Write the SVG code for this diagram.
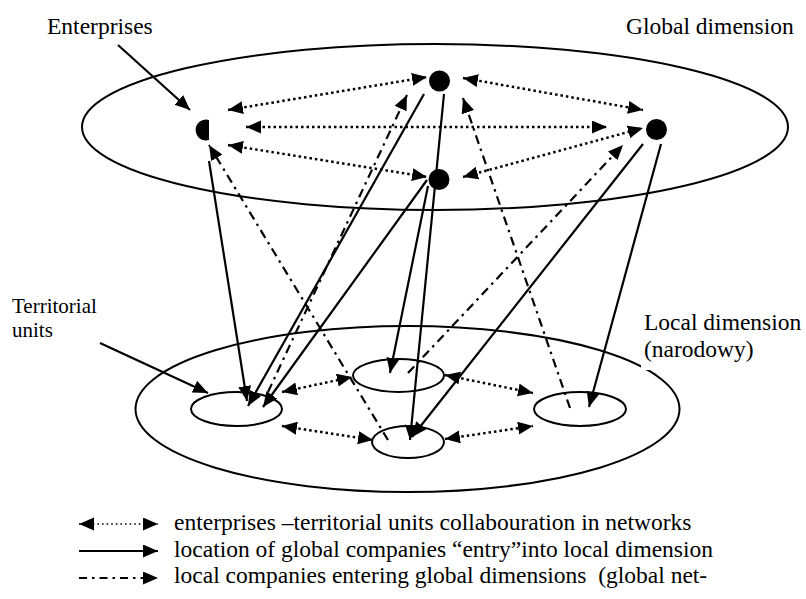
<svg xmlns="http://www.w3.org/2000/svg" width="806" height="599" viewBox="0 0 806 599">
<style>
text{font-family:"Liberation Serif","Times New Roman",serif;font-size:23.5px;fill:#000}
.small{font-size:21px}
.ell{fill:none;stroke:#000;stroke-width:2}
.node{fill:#000}
.solid{fill:none;stroke:#000;stroke-width:2.2}
.dot{fill:none;stroke:#000;stroke-width:2.5;stroke-dasharray:2.5 3}
.dd{fill:none;stroke:#000;stroke-width:2.2;stroke-dasharray:9 5 2.5 5}
.ldot{fill:none;stroke:#000;stroke-width:1.6;stroke-dasharray:1.6 3}
.ldd{fill:none;stroke:#000;stroke-width:2.2;stroke-dasharray:8 5 2.5 5}
</style>
<defs>
<marker id="ah" markerUnits="userSpaceOnUse" markerWidth="16" markerHeight="14" refX="15" refY="6.5" orient="auto-start-reverse">
<path d="M0,0 L15,6.5 L0,13 z" fill="#000"/>
</marker>
</defs>
<g id="global-dimension">
<ellipse class="ell" cx="435" cy="127" rx="353" ry="83"/>
</g>
<g id="local-dimension">
<ellipse class="ell" cx="407.5" cy="409" rx="272" ry="83"/>
</g>
<g id="unit-1"><ellipse class="ell" cx="236.5" cy="409" rx="45.5" ry="17"/></g>
<g id="unit-2"><ellipse class="ell" cx="398.5" cy="375.5" rx="45.5" ry="16.5"/></g>
<g id="unit-3"><ellipse class="ell" cx="408" cy="442" rx="36" ry="16"/></g>
<g id="unit-4"><ellipse class="ell" cx="580" cy="409" rx="46" ry="17"/></g>
<g id="connectors">
<line class="dot" x1="228" y1="110" x2="427" y2="77" marker-start="url(#ah)" marker-end="url(#ah)"/>
<line class="dot" x1="246" y1="127" x2="607" y2="127" marker-start="url(#ah)" marker-end="url(#ah)"/>
<line class="dot" x1="228" y1="145" x2="427" y2="177" marker-start="url(#ah)" marker-end="url(#ah)"/>
<line class="dot" x1="463" y1="78" x2="643" y2="110" marker-start="url(#ah)" marker-end="url(#ah)"/>
<line class="dot" x1="463" y1="177" x2="643" y2="128" marker-start="url(#ah)" marker-end="url(#ah)"/>
<line class="dot" x1="282" y1="392" x2="352" y2="377" marker-start="url(#ah)" marker-end="url(#ah)"/>
<line class="dot" x1="282" y1="426" x2="373" y2="440" marker-start="url(#ah)" marker-end="url(#ah)"/>
<line class="dot" x1="445" y1="375" x2="533" y2="393" marker-start="url(#ah)" marker-end="url(#ah)"/>
<line class="dot" x1="445" y1="439" x2="533" y2="426" marker-start="url(#ah)" marker-end="url(#ah)"/>
<line class="solid" x1="209" y1="161" x2="247" y2="401" marker-end="url(#ah)"/>
<line class="solid" x1="424" y1="94" x2="248" y2="406" marker-end="url(#ah)"/>
<line class="solid" x1="427" y1="180" x2="263" y2="407" marker-end="url(#ah)"/>
<line class="solid" x1="444" y1="94" x2="410" y2="440" marker-end="url(#ah)"/>
<line class="solid" x1="428" y1="186" x2="390" y2="373" marker-end="url(#ah)"/>
<line class="solid" x1="643" y1="144" x2="412" y2="437" marker-end="url(#ah)"/>
<line class="solid" x1="661" y1="144" x2="589" y2="407" marker-end="url(#ah)"/>
<line class="solid" x1="118" y1="45" x2="190" y2="110" marker-end="url(#ah)"/>
<line class="solid" x1="100" y1="343" x2="208" y2="393" marker-end="url(#ah)"/>
<line class="dd" x1="388" y1="440" x2="209" y2="145" marker-end="url(#ah)"/>
<line class="dd" x1="268" y1="392" x2="407" y2="95" marker-end="url(#ah)"/>
<line class="dd" x1="570" y1="408" x2="463" y2="98" marker-end="url(#ah)"/>
<line class="dd" x1="408" y1="373" x2="623" y2="145" marker-end="url(#ah)"/>
</g>
<g id="enterprise-a"><path class="node" d="M209,119.9 A10.5,10.5 0 1 0 209,140.1 Z"/></g>
<g id="enterprise-b"><circle class="node" cx="439.5" cy="81" r="10.5"/></g>
<g id="enterprise-c"><circle class="node" cx="439" cy="179.5" r="10.5"/></g>
<g id="enterprise-d"><circle class="node" cx="656.5" cy="129.5" r="10.5"/></g>
<g id="labels">
<text x="47" y="34">Enterprises</text>
<text x="626" y="34">Global dimension</text>
<text class="small" x="12" y="313">Territorial</text>
<text class="small" x="12" y="337">units</text>
<rect x="641" y="311" width="165" height="59" fill="#fff"/>
<text x="644" y="330">Local dimension</text>
<text x="644" y="357">(narodowy)</text>
</g>
<g id="legend">
<line class="ldot" x1="79" y1="524" x2="158" y2="524" marker-start="url(#ah)" marker-end="url(#ah)"/>
<line class="solid" x1="79" y1="551" x2="158" y2="551" marker-end="url(#ah)"/>
<line class="ldd" x1="79" y1="578" x2="158" y2="578" marker-end="url(#ah)"/>
<text x="174" y="530">enterprises –territorial units collabouration in networks</text>
<text x="174" y="557">location of global companies “entry”into local dimension</text>
<text x="174" y="583" style="white-space:pre">local companies entering global dimensions  (global net-</text>
</g>
</svg>
